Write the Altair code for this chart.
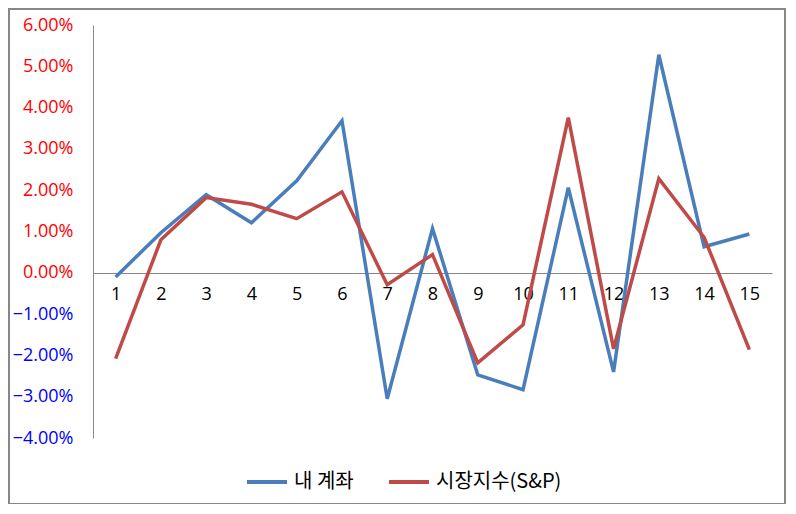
import altair as alt
import pandas as pd

periods = list(range(1, 16))
my_account = [-0.0010, 0.0097, 0.0189, 0.0121, 0.0223, 0.0368, -0.0305, 0.0107,
              -0.0247, -0.0283, 0.0206, -0.0240, 0.0528, 0.0063, 0.0094]
market = [-0.0208, 0.0080, 0.0182, 0.0166, 0.0131, 0.0196, -0.0029, 0.0044,
          -0.0218, -0.0126, 0.0376, -0.0184, 0.0228, 0.0086, -0.0186]
series_names = ["내 계좌", "시장지수(S&P)"]
series_colors = ["#4A7EBB", "#BE4B48"]
y_ticks = [-0.04, -0.03, -0.02, -0.01, 0.0, 0.01, 0.02, 0.03, 0.04, 0.05, 0.06]

rows = []
for p, v in zip(periods, my_account):
    rows.append({"period": p, "value": v, "series": series_names[0], "order": 0})
for p, v in zip(periods, market):
    rows.append({"period": p, "value": v, "series": series_names[1], "order": 1})
df = pd.DataFrame(rows)

W, H = 679, 413

lines = alt.Chart(df).mark_line(strokeWidth=3.5).encode(
    x=alt.X("period:O", scale=alt.Scale(type="point", padding=0.5),
            axis=alt.Axis(title=None, labelAngle=0, ticks=False, domainColor="#868686",
                          domainWidth=1, labelFont="Open Sans", labelFontSize=18,
                          labelColor="black", labelPadding=12, offset=-165, grid=False)),
    y=alt.Y("value:Q", scale=alt.Scale(domain=[-0.04, 0.06], nice=False, zero=False),
            axis=alt.Axis(title=None, format=".2%", values=y_ticks, ticks=False, grid=False,
                          labelPadding=20, domainColor="#868686", domainWidth=1,
                          labelFont="Open Sans", labelFontSize=18,
                          labelColor={"condition": {"test": "datum.value < 0", "value": "#0000FF"},
                                      "value": "#FF0000"})),
    color=alt.Color("series:N", scale=alt.Scale(domain=series_names, range=series_colors),
                    legend=alt.Legend(title=None, orient="none", legendX=152, legendY=435,
                                      direction="horizontal", symbolType="stroke",
                                      symbolSize=1600, symbolStrokeWidth=4,
                                      labelFont="Noto Sans CJK KR", labelFontSize=20,
                                      labelColor="black", labelOffset=5, columnPadding=27)),
    order=alt.Order("order:Q"),
    detail="series:N",
)

border = alt.Chart(pd.DataFrame({"a": [0]})).mark_rect(
    fill=None, stroke="#878787", strokeWidth=2
).encode(x=alt.value(-84), x2=alt.value(692), y=alt.value(-16), y2=alt.value(479))

chart = alt.layer(border, lines).properties(
    width=W, height=H,
    background="white",
    autosize=alt.AutoSizeParams(type="none"),
    padding={"left": 85, "top": 17, "right": 14, "bottom": 66},
).configure_view(strokeWidth=0, stroke=None)

chart.save("out.html", embed_options={"renderer": "svg", "actions": False})
